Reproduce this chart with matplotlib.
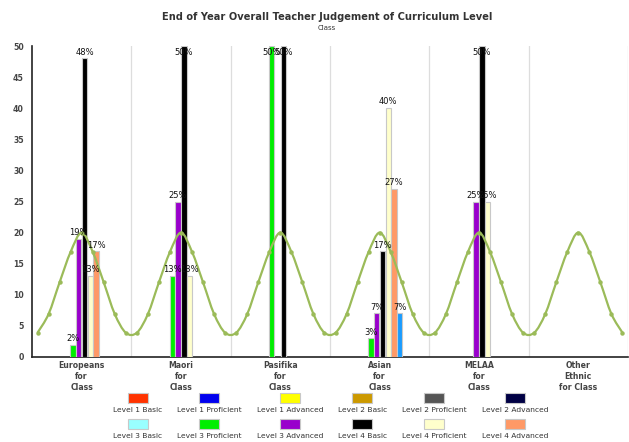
import numpy as np
import matplotlib
matplotlib.use("Agg")
import matplotlib.pyplot as plt
from matplotlib.patches import Rectangle, PathPatch
from matplotlib.path import Path

# categories on the x axis
categories = ["Europeans\nfor\nClass", "Maori\nfor\nClass", "Pasifika\nfor\nClass",
              "Asian\nfor\nClass", "MELAA\nfor\nClass", "Other\nEthnic\nfor Class"]

# legend entries (two rows of six)
legend_labels = ["Level 1 Basic", "Level 1 Proficient", "Level 1 Advanced",
                 "Level 2 Basic", "Level 2 Proficient", "Level 2 Advanced",
                 "Level 3 Basic", "Level 3 Proficient", "Level 3 Advanced",
                 "Level 4 Basic", "Level 4 Proficient", "Level 4 Advanced"]
legend_colors = ["#ff3300", "#0000ee", "#ffff00", "#cc9900", "#555555", "#000044",
                 "#99ffff", "#00ee00", "#9900cc", "#000000", "#ffffcc", "#ff9966"]

# percentages per category (Europeans, Maori, Pasifika, Asian, MELAA, Other)
l2_advanced = [0, 0, 0, 0, 0, 0]
l3_basic = [0, 0, 0, 0, 0, 0]
l3_proficient = [2, 13, 50, 3, 0, 0]
l3_advanced = [19, 25, 0, 7, 25, 0]
l4_basic = [48, 50, 50, 17, 50, 0]
l4_proficient = [13, 13, 0, 40, 25, 0]
l4_advanced = [17, 0, 0, 27, 0, 0]
extra_series = [0, 0, 0, 7, 0, 0]   # blue column, not in legend

bar_series = [l2_advanced, l3_basic, l3_proficient, l3_advanced,
              l4_basic, l4_proficient, l4_advanced, extra_series]
bar_colors = ["#000044", "#99ffff", "#00ee00", "#9900cc",
              "#000000", "#ffffcc", "#ff9966", "#1a9cff"]

# distribution curve, 9 points per category
curve_values = [3.9, 6.9, 12.0, 16.9, 20.0, 16.9, 12.0, 6.9, 3.9,
                3.9, 6.9, 12.0, 16.9, 20.0, 16.9, 12.0, 6.9, 3.9,
                3.9, 6.9, 12.0, 16.9, 20.0, 16.9, 12.0, 6.9, 3.9,
                3.9, 6.9, 12.0, 16.9, 20.0, 16.9, 12.0, 6.9, 3.9,
                3.9, 6.9, 12.0, 16.9, 20.0, 16.9, 12.0, 6.9, 3.9,
                3.9, 6.9, 12.0, 16.9, 20.0, 16.9, 12.0, 6.9, 3.9]

fig = plt.figure(figsize=(6.29, 4.42), dpi=100)
ax = fig.add_axes([32 / 629, 85 / 442, 596 / 629, 311 / 442])

n_slots = len(bar_series)
slot_w = 0.058
x = np.arange(len(categories))

for s, (vals, col) in enumerate(zip(bar_series, bar_colors)):
    offset = (s - (n_slots - 1) / 2) * slot_w
    for i, v in enumerate(vals):
        if v == 0:
            continue
        ax.bar(x[i] + offset, v, width=slot_w * 0.92, color=col,
               edgecolor="#c8c8c8", linewidth=0.8, zorder=3)
        ax.text(x[i] + offset, min(v + 1.0, 48.9), "%d%%" % v, ha="center",
                va="center", fontsize=6, color="#111111", zorder=5)

# curve x positions: 9 per category spaced 1/9
cx = np.concatenate([c + (np.arange(9) - 4) / 9.0 for c in x])
cy = np.array(curve_values)

# smooth the line through the points (catmull-rom as bezier segments)
px = np.concatenate([[cx[0]], cx, [cx[-1]]])
py = np.concatenate([[cy[0]], cy, [cy[-1]]])
verts = [(cx[0], cy[0])]
codes = [Path.MOVETO]
for i in range(1, len(px) - 2):
    c1 = (px[i] + (px[i + 1] - px[i - 1]) / 6, py[i] + (py[i + 1] - py[i - 1]) / 6)
    c2 = (px[i + 1] - (px[i + 2] - px[i]) / 6, py[i + 1] - (py[i + 2] - py[i]) / 6)
    verts += [c1, c2, (px[i + 1], py[i + 1])]
    codes += [Path.CURVE4] * 3
ax.add_patch(PathPatch(Path(verts, codes), facecolor="none", edgecolor="#9bbb59",
                       lw=1.6, zorder=4))
ax.plot(cx, cy, linestyle="none", color="#9bbb59", marker="o", ms=2.2, zorder=4)

ax.set_xlim(-0.5, len(categories) - 0.5)
ax.set_ylim(0, 50)
ax.set_yticks(range(0, 51, 5))
ax.set_xticks(x)
ax.set_xticklabels(categories, fontsize=5.6, fontweight="bold", color="#444444",
                   linespacing=1.25)
ax.tick_params(axis="y", length=0, labelsize=5.6, labelcolor="#444444", pad=6)
ax.tick_params(axis="x", length=0, pad=3)
for lbl in ax.get_yticklabels():
    lbl.set_fontweight("bold")

for b in np.arange(0.5, len(categories), 1.0):
    ax.axvline(b, color="#dddddd", lw=0.9, zorder=1)

ax.spines["top"].set_visible(False)
ax.spines["right"].set_visible(False)
ax.spines["left"].set_color("#222222")
ax.spines["bottom"].set_color("#222222")
ax.spines["left"].set_linewidth(1.2)
ax.spines["bottom"].set_linewidth(1.2)

fig.text(327 / 629, 1 - 17 / 442, "End of Year Overall Teacher Judgement of Curriculum Level",
         ha="center", va="center", fontsize=7.1, fontweight="bold", color="#333333")
fig.text(327 / 629, 1 - 28 / 442, "Class", ha="center", va="center", fontsize=5,
         color="#333333")

# legend: swatch above label, two rows of six
col_centers = [137.7, 209.3, 290, 362.3, 434, 515]
row_swatch_y = [398, 424]
row_label_y = [410, 436]
for k, (lab, col) in enumerate(zip(legend_labels, legend_colors)):
    r, c = divmod(k, 6)
    cxp = col_centers[c]
    fig.patches.append(Rectangle(((cxp - 10) / 629, 1 - (row_swatch_y[r] + 5) / 442),
                                 20 / 629, 10 / 442, transform=fig.transFigure,
                                 facecolor=col, edgecolor="#c8c8c8", linewidth=0.8))
    fig.text(cxp / 629, 1 - row_label_y[r] / 442, lab, ha="center", va="center",
             fontsize=5.4, color="#333333")

fig.savefig("out.png", dpi=100)
